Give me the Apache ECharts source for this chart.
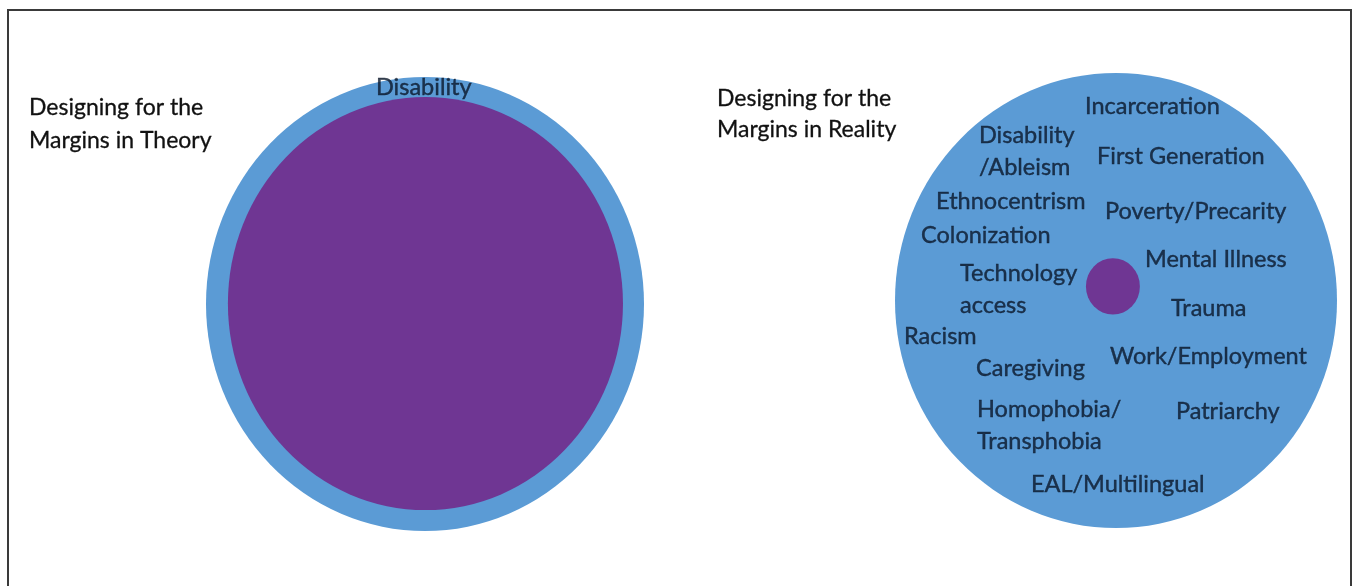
<!DOCTYPE html>
<html>
<head>
<meta charset="utf-8">
<script src="https://cdn.jsdelivr.net/npm/echarts@6/dist/echarts.min.js"></script>
<style>
html, body { margin: 0; padding: 0; background: #fff; overflow: hidden; }
#frame { position: absolute; left: 7px; top: 9px; width: 1345px; height: 620px; border: 2px solid #3a3a3a; border-bottom: none; box-sizing: border-box; }
#chart { position: absolute; left: 0; top: 0; width: 1353px; height: 586px; }
</style>
</head>
<body>
<div id="frame"></div>
<div id="chart"></div>
<script>
// titles of the two panels
var panelTitles = ['Designing for the\nMargins in Theory', 'Designing for the\nMargins in Reality'];

// share of the outer circle covered by the purple "margin" circle (diameter ratio)
var theoryCoverage = [0.902, 0.91];
var realityCoverage = [0.122, 0.124];

// label of the theory panel, [x, y] in circle units (-1..1), x = left edge of text
var theoryLabels = ['Disability'];
var theoryLabelPos = [[-0.224, 0.952]];

// labels of the reality panel
var realityLabels = [
  'Incarceration', 'Disability\n/Ableism', 'First Generation', 'Ethnocentrism',
  'Poverty/Precarity', 'Colonization', 'Mental Illness', 'Technology\naccess',
  'Trauma', 'Racism', 'Work/Employment', 'Caregiving',
  'Homophobia/\nTransphobia', 'Patriarchy', 'EAL/Multilingual'
];
var realityLabelPos = [
  [-0.140, 0.855], [-0.620, 0.657], [-0.086, 0.635], [-0.814, 0.437],
  [-0.050, 0.393], [-0.882, 0.284], [0.131, 0.182], [-0.706, 0.048],
  [0.249, -0.037], [-0.959, -0.156], [-0.027, -0.244], [-0.633, -0.297],
  [-0.629, -0.549], [0.271, -0.486], [-0.385, -0.807]
];
var realityDotPos = [-0.014, 0.062];

var BLUE = '#5b9bd5';
var PURPLE = '#6f3693';
var FONT = 'Lato';

// grid boxes hug the outer circles
var grids = [
  { left: 206, top: 77, width: 438, height: 454 },
  { left: 895, top: 73, width: 442, height: 455 }
];

var ellipse = 'path://M0,50A50,50,0,1,1,100,50A50,50,0,1,1,0,50Z';

function circleSeries(gridIdx, pos, ratio, color, z) {
  var g = grids[gridIdx];
  return {
    type: 'scatter',
    xAxisIndex: gridIdx,
    yAxisIndex: gridIdx,
    symbol: ellipse,
    symbolSize: [g.width * ratio[0], g.height * ratio[1]],
    itemStyle: { color: color, opacity: 1 },
    clip: false,
    silent: true,
    z: z,
    data: [pos]
  };
}

function labelSeries(gridIdx, names, pos) {
  return {
    type: 'scatter',
    xAxisIndex: gridIdx,
    yAxisIndex: gridIdx,
    symbolSize: 0,
    clip: false,
    silent: true,
    z: 10,
    label: {
      show: true,
      position: 'right',
      distance: 0,
      formatter: '{b}',
      fontFamily: FONT,
      fontSize: 23.5,
      lineHeight: 32,
      color: '#0a1629',
      // slightly heavier strokes, like the original slide font
      textBorderColor: '#0a1629',
      textBorderWidth: 0.4
    },
    data: names.map(function (n, i) {
      return { name: n, value: pos[i] };
    })
  };
}

var chart = echarts.init(document.getElementById('chart'));

var axisTpl = function (i) {
  return { gridIndex: i, type: 'value', min: -1, max: 1, show: false };
};

var titleStyle = function (lh) {
  return {
    fontFamily: FONT, fontSize: 23, fontWeight: 'normal', color: '#111', lineHeight: lh,
    textBorderColor: '#111', textBorderWidth: 0.3
  };
};

chart.setOption({
  backgroundColor: 'transparent',
  animation: false,
  title: [
    { text: panelTitles[0], left: 29, top: 91, padding: 0, textStyle: titleStyle(33) },
    { text: panelTitles[1], left: 717, top: 83, padding: 0, textStyle: titleStyle(31) }
  ],
  grid: grids,
  xAxis: [axisTpl(0), axisTpl(1)],
  yAxis: [axisTpl(0), axisTpl(1)],
  series: [
    circleSeries(0, [0, 0], [1, 1], BLUE, 1),
    circleSeries(0, [0.002, 0.002], theoryCoverage, PURPLE, 2),
    labelSeries(0, theoryLabels, theoryLabelPos),
    circleSeries(1, [0, 0], [1, 1], BLUE, 1),
    circleSeries(1, realityDotPos, realityCoverage, PURPLE, 2),
    labelSeries(1, realityLabels, realityLabelPos)
  ]
});
</script>
</body>
</html>
